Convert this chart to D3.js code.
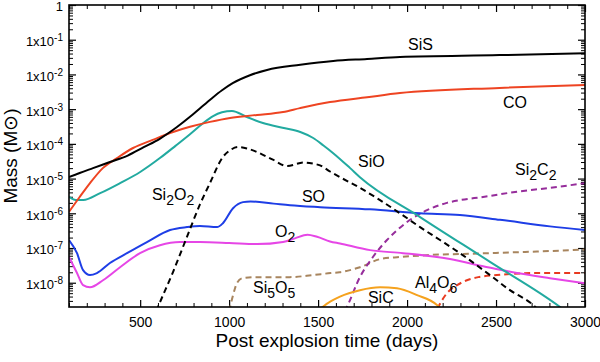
<!DOCTYPE html>
<html>
<head>
<meta charset="utf-8">
<script src="https://cdn.jsdelivr.net/npm/d3@7"></script>
<style>
  body { margin: 0; background: #fff; }
  svg { font-family: "Liberation Sans", Arial, Helvetica, sans-serif; }
</style>
</head>
<body>
<script>
'use strict';

// time (days) vs mass (Msun)
const sisData = [[100,1.1e-5],[160,1.45e-5],[235,2.0e-5],[330,3.0e-5],[430,4.6e-5],[520,8.0e-5],[610,1.4e-4],[705,3.0e-4],[780,6.0e-4],[840,1.1e-3],[900,2.0e-3],[960,3.5e-3],[1020,5.6e-3],[1117,9.5e-3],[1213,1.35e-2],[1400,1.9e-2],[1585,2.45e-2],[1775,2.8e-2],[1960,3.2e-2],[2520,3.6e-2],[3000,4.1e-2]];
const coData = [[100,1.1e-6],[160,2.95e-6],[218,7.4e-6],[290,2.0e-5],[370,3.9e-5],[460,7.6e-5],[570,1.3e-4],[685,2.2e-4],[780,3.1e-4],[892,4.3e-4],[1005,5.6e-4],[1157,6.8e-4],[1303,8.3e-4],[1398,1.07e-3],[1567,1.6e-3],[1775,2.2e-3],[1960,2.9e-3],[2520,4.1e-3],[3000,5.0e-3]];
const sioData = [[100,3.0e-6],[145,2.4e-6],[180,2.4e-6],[275,3.8e-6],[387,7.4e-6],[500,1.55e-5],[611,3.9e-5],[700,8.9e-5],[780,1.9e-4],[850,3.8e-4],[910,6.3e-4],[960,8.1e-4],[1016,8.9e-4],[1100,5.9e-4],[1190,4.0e-4],[1300,2.9e-4],[1400,2.2e-4],[1470,1.5e-4],[1530,9.0e-5],[1585,5.4e-5],[1680,2.0e-5],[1735,1.1e-5],[2073,7.8e-7],[2466,4.0e-8],[2860,2.0e-9],[2900,1.4e-9]];
const si2o2Data = [[590,1.5e-9],[600,2.0e-9],[684,2.0e-8],[763,2.1e-7],[836,1.8e-6],[892,7.4e-6],[965,4.2e-5],[1010,6.8e-5],[1050,8.1e-5],[1100,7.4e-5],[1157,5.8e-5],[1246,3.5e-5],[1325,2.3e-5],[1420,2.9e-5],[1470,2.7e-5],[1511,2.4e-5],[1567,1.6e-5],[1623,1.1e-5],[1735,5.4e-6],[1848,2.4e-6],[1960,1.0e-6],[2073,4.0e-7],[2185,1.7e-7],[2297,7.1e-8],[2466,1.66e-8],[2578,6.1e-9],[2708,2.3e-9],[2740,1.6e-9]];
const soData = [[100,1.7e-7],[145,7.1e-8],[179,2.3e-8],[218,1.66e-8],[257,1.9e-8],[330,3.7e-8],[426,7.1e-8],[538,1.48e-7],[668,3.3e-7],[763,4.0e-7],[836,4.3e-7],[932,4.0e-7],[965,5.2e-7],[1022,1.4e-6],[1078,2.1e-6],[1120,2.2e-6],[1250,1.9e-6],[1342,1.7e-6],[1511,1.5e-6],[1792,1.3e-6],[2073,1.0e-6],[2297,8.9e-7],[2522,6.5e-7],[2803,4.2e-7],[3000,3.3e-7]];
const o2Data = [[100,5.5e-8],[145,1.9e-8],[179,8.5e-9],[218,7.4e-9],[291,1.18e-8],[387,2.8e-8],[499,7.1e-8],[611,1.2e-7],[724,1.48e-7],[836,1.48e-7],[1000,1.4e-7],[1157,1.3e-7],[1303,1.5e-7],[1370,1.9e-7],[1440,2.4e-7],[1494,2.1e-7],[1567,1.55e-7],[1623,1.35e-7],[1792,8.7e-8],[1977,7.1e-8],[2241,4.8e-8],[2427,3.0e-8],[2618,1.9e-8],[2803,1.35e-8],[3000,9.7e-9]];
const si5o5Data = [[1000,1.5e-9],[1020,4.0e-9],[1045,1.0e-8],[1075,1.35e-8],[1160,1.45e-8],[1340,1.45e-8],[1470,1.66e-8],[1570,1.9e-8],[1620,2.0e-8],[1735,2.8e-8],[1850,4.8e-8],[1960,5.5e-8],[2130,6.3e-8],[2420,7.0e-8],[2800,8.2e-8],[3000,9.0e-8]];
const si2c2Data = [[1650,1.5e-9],[1662,2.0e-9],[1735,1.45e-8],[1808,5.5e-8],[1887,1.7e-7],[2000,5.6e-7],[2112,1.23e-6],[2224,2.0e-6],[2297,2.4e-6],[2427,2.95e-6],[2618,4.2e-6],[2803,5.4e-6],[3000,7.4e-6]];
const sicData = [[1500,1.6e-9],[1570,2.9e-9],[1623,4.0e-9],[1735,6.1e-9],[1848,7.4e-9],[1943,6.9e-9],[2056,4.4e-9],[2168,2.3e-9],[2190,1.8e-9]];
const al4o6Data = [[2170,1.8e-9],[2224,5.0e-9],[2281,8.5e-9],[2340,1.2e-8],[2400,1.45e-8],[2505,1.66e-8],[2708,1.9e-8],[3000,1.9e-8]];

const xTicks = [500, 1000, 1500, 2000, 2500, 3000];
const yTicks = [1e-8, 1e-7, 1e-6, 1e-5, 1e-4, 1e-3, 1e-2, 1e-1, 1];
const yTickExp = ["-8", "-7", "-6", "-5", "-4", "-3", "-2", "-1", ""];

// name parts: [text, isSubscript]; anchor in data coords
const labels = [
  { parts: [["SiS",0]], at: [2005, 5.0e-2] },
  { parts: [["CO",0]], at: [2539, 1.08e-3] },
  { parts: [["SiO",0]], at: [1724, 2.1e-5] },
  { parts: [["Si",0],["2",1],["O",0],["2",1]], at: [566, 2.4e-6] },
  { parts: [["SO",0]], at: [1409, 2.1e-6] },
  { parts: [["O",0],["2",1]], at: [1258, 2.06e-7] },
  { parts: [["Si",0],["5",1],["O",0],["5",1]], at: [1134, 5.0e-9] },
  { parts: [["SiC",0]], at: [1780, 2.6e-9] },
  { parts: [["Al",0],["4",1],["O",0],["6",1]], at: [2045, 7.0e-9] },
  { parts: [["Si",0],["2",1],["C",0],["2",1]], at: [2607, 1.26e-5] }
];

const series = [
  { data: si5o5Data, color: "#a8855e", dash: "6,4" },
  { data: si2c2Data, color: "#962d9b", dash: "6,4" },
  { data: al4o6Data, color: "#e83a20", dash: "6,4" },
  { data: sicData, color: "#f5a21e", dash: null },
  { data: o2Data, color: "#e646e6", dash: null },
  { data: soData, color: "#1e3ee6", dash: null },
  { data: si2o2Data, color: "#000000", dash: "6,4" },
  { data: sioData, color: "#22aaa0", dash: null },
  { data: coData, color: "#ee4422", dash: null },
  { data: sisData, color: "#000000", dash: null }
];

const m = { left: 69, right: 585, top: 5, bottom: 307 };

const svg = d3.select('body').append('svg')
  .attr('width', 600)
  .attr('height', 362);

const xScale = d3.scaleLinear().domain([100, 3000]).range([m.left, m.right]);
const yScale = d3.scaleLog().domain([2e-9, 1]).range([m.bottom, m.top]);

svg.append('clipPath').attr('id', 'plotClip')
  .append('rect')
  .attr('x', m.left).attr('y', m.top)
  .attr('width', m.right - m.left).attr('height', m.bottom - m.top);

// minor tick values
const xMinor = d3.range(100, 3001, 100).filter(v => v % 500 !== 0);
const yMinor = [];
for (let e = -9; e < 0; e++) {
  for (let k = 2; k <= 9; k++) {
    const v = k * Math.pow(10, e);
    if (v > 2e-9 && v < 1) yMinor.push(v);
  }
}

function noDomain(g) { g.select('.domain').remove(); }

// x axes (bottom with labels, top without)
svg.append('g')
  .attr('transform', 'translate(0,' + m.bottom + ')')
  .call(d3.axisBottom(xScale).tickValues(xTicks).tickSizeInner(-7).tickSizeOuter(0).tickPadding(10).tickFormat(d3.format('d')))
  .call(noDomain)
  .call(g => g.selectAll('text').attr('font-size', 14).attr('fill', '#000').attr('font-family', null))
  .call(g => g.selectAll('line').attr('stroke', '#000').attr('stroke-width', 1.2));
svg.append('g')
  .attr('transform', 'translate(0,' + m.bottom + ')')
  .call(d3.axisBottom(xScale).tickValues(xMinor).tickSizeInner(-4).tickSizeOuter(0).tickFormat(''))
  .call(noDomain);
svg.append('g')
  .attr('transform', 'translate(0,' + m.top + ')')
  .call(d3.axisTop(xScale).tickValues(xTicks).tickSizeInner(-7).tickSizeOuter(0).tickFormat(''))
  .call(noDomain)
  .call(g => g.selectAll('line').attr('stroke-width', 1.2));
svg.append('g')
  .attr('transform', 'translate(0,' + m.top + ')')
  .call(d3.axisTop(xScale).tickValues(xMinor).tickSizeInner(-4).tickSizeOuter(0).tickFormat(''))
  .call(noDomain);

// y axes (left with labels, right without)
svg.append('g')
  .attr('transform', 'translate(' + m.left + ',0)')
  .call(d3.axisLeft(yScale).tickValues(yTicks).tickSizeInner(-7).tickSizeOuter(0).tickPadding(6).tickFormat(''))
  .call(noDomain)
  .call(g => g.selectAll('line').attr('stroke-width', 1.2))
  .call(g => g.selectAll('.tick text')
    .attr('dy', '0.45em')
    .attr('font-size', 13)
    .attr('fill', '#000')
    .attr('font-family', null)
    .each(function(d, i) {
      const t = d3.select(this);
      if (yTickExp[i] === "") {
        t.text('1');
      } else {
        t.append('tspan').text('1x10');
        t.append('tspan').attr('font-size', 10).attr('dy', -5).text(yTickExp[i]);
      }
    }));
svg.append('g')
  .attr('transform', 'translate(' + m.left + ',0)')
  .call(d3.axisLeft(yScale).tickValues(yMinor).tickSizeInner(-4).tickSizeOuter(0).tickFormat(''))
  .call(noDomain);
svg.append('g')
  .attr('transform', 'translate(' + m.right + ',0)')
  .call(d3.axisRight(yScale).tickValues(yTicks).tickSizeInner(-7).tickSizeOuter(0).tickFormat(''))
  .call(noDomain)
  .call(g => g.selectAll('line').attr('stroke-width', 1.2));
svg.append('g')
  .attr('transform', 'translate(' + m.right + ',0)')
  .call(d3.axisRight(yScale).tickValues(yMinor).tickSizeInner(-4).tickSizeOuter(0).tickFormat(''))
  .call(noDomain);

// curves
const line = d3.line()
  .x(d => xScale(d[0]))
  .y(d => yScale(d[1]))
  .curve(d3.curveMonotoneX);

const plot = svg.append('g').attr('clip-path', 'url(#plotClip)');
series.forEach(s => {
  plot.append('path')
    .datum(s.data)
    .attr('d', line)
    .attr('fill', 'none')
    .attr('stroke', s.color)
    .attr('stroke-width', 2)
    .attr('stroke-dasharray', s.dash);
});

// frame
svg.append('rect')
  .attr('x', m.left).attr('y', m.top)
  .attr('width', m.right - m.left).attr('height', m.bottom - m.top)
  .attr('fill', 'none')
  .attr('stroke', '#000')
  .attr('stroke-width', 1.6);

// curve labels
labels.forEach(l => {
  const t = svg.append('text')
    .attr('x', xScale(l.at[0]))
    .attr('y', yScale(l.at[1]))
    .attr('font-size', 16)
    .attr('fill', '#000');
  let shift = 0;
  l.parts.forEach(p => {
    const dy = p[1] ? 5 - shift : -shift;
    shift += dy;
    t.append('tspan')
      .attr('dy', dy)
      .attr('font-size', p[1] ? 14 : 16)
      .text(p[0]);
  });
});

// axis titles
svg.append('text')
  .attr('x', (m.left + m.right) / 2)
  .attr('y', 347)
  .attr('text-anchor', 'middle')
  .attr('font-size', 19)
  .text('Post explosion time (days)');

svg.append('text')
  .attr('transform', 'translate(17,' + ((m.top + m.bottom) / 2) + ')rotate(-90)')
  .attr('text-anchor', 'middle')
  .attr('font-size', 19)
  .text('Mass (M\u2299)');
</script>
</body>
</html>
